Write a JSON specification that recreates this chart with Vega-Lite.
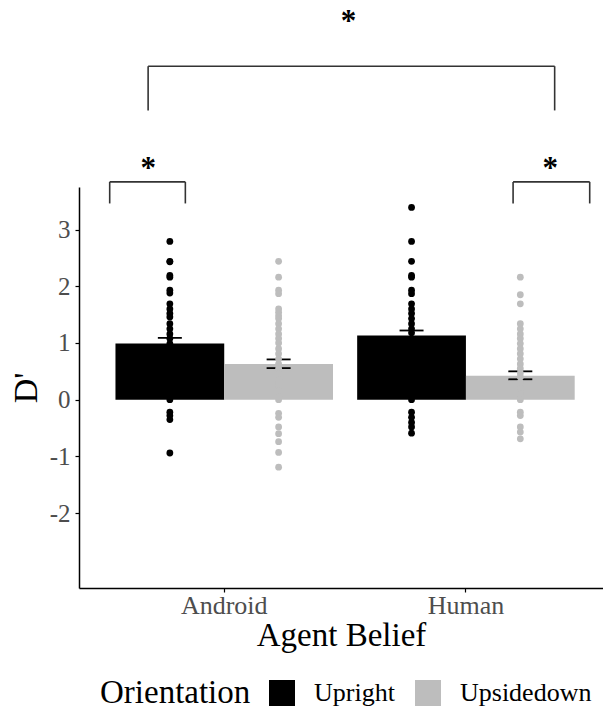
{
  "$schema": "https://vega.github.io/schema/vega-lite/v6.json",
  "autosize": {"type": "none"},
  "padding": {"left": 79, "top": 187, "right": 0, "bottom": 124},
  "width": 524,
  "height": 401,
  "background": "white",
  "config": {
    "view": {"stroke": null},
    "font": "Liberation Serif",
    "axis": {"grid": false, "domainColor": "#000000", "domainWidth": 1.5, "tickColor": "#000000", "tickWidth": 1.2, "tickSize": 4, "labelFont": "Liberation Serif", "titleFont": "Liberation Serif", "labelColor": "#4d4d4d", "titleColor": "#000000", "titleFontWeight": "normal"}
  },
  "datasets": {
    "means": [
      {"belief": "Android", "orientation": "Upright", "mean": 0.99, "lo": 0.90, "hi": 1.09},
      {"belief": "Android", "orientation": "Upsidedown", "mean": 0.63, "lo": 0.557, "hi": 0.71},
      {"belief": "Human", "orientation": "Upright", "mean": 1.134, "lo": 1.05, "hi": 1.22},
      {"belief": "Human", "orientation": "Upsidedown", "mean": 0.42, "lo": 0.36, "hi": 0.50}
    ],
    "points": [
      {"belief": "Android", "orientation": "Upright", "d": 2.79},
      {"belief": "Android", "orientation": "Upright", "d": 2.44},
      {"belief": "Android", "orientation": "Upright", "d": 2.43},
      {"belief": "Android", "orientation": "Upright", "d": 2.19},
      {"belief": "Android", "orientation": "Upright", "d": 2.16},
      {"belief": "Android", "orientation": "Upright", "d": 1.93},
      {"belief": "Android", "orientation": "Upright", "d": 1.88},
      {"belief": "Android", "orientation": "Upright", "d": 1.69},
      {"belief": "Android", "orientation": "Upright", "d": 1.6},
      {"belief": "Android", "orientation": "Upright", "d": 1.52},
      {"belief": "Android", "orientation": "Upright", "d": 1.46},
      {"belief": "Android", "orientation": "Upright", "d": 1.34},
      {"belief": "Android", "orientation": "Upright", "d": 1.25},
      {"belief": "Android", "orientation": "Upright", "d": 1.16},
      {"belief": "Android", "orientation": "Upright", "d": 1.08},
      {"belief": "Android", "orientation": "Upright", "d": 0.99},
      {"belief": "Android", "orientation": "Upright", "d": 0.92},
      {"belief": "Android", "orientation": "Upright", "d": 0.85},
      {"belief": "Android", "orientation": "Upright", "d": 0.78},
      {"belief": "Android", "orientation": "Upright", "d": 0.7},
      {"belief": "Android", "orientation": "Upright", "d": 0.62},
      {"belief": "Android", "orientation": "Upright", "d": 0.55},
      {"belief": "Android", "orientation": "Upright", "d": 0.47},
      {"belief": "Android", "orientation": "Upright", "d": 0.4},
      {"belief": "Android", "orientation": "Upright", "d": 0.33},
      {"belief": "Android", "orientation": "Upright", "d": 0.25},
      {"belief": "Android", "orientation": "Upright", "d": 0.18},
      {"belief": "Android", "orientation": "Upright", "d": 0.1},
      {"belief": "Android", "orientation": "Upright", "d": 0.0},
      {"belief": "Android", "orientation": "Upright", "d": -0.22},
      {"belief": "Android", "orientation": "Upright", "d": -0.28},
      {"belief": "Android", "orientation": "Upright", "d": -0.35},
      {"belief": "Android", "orientation": "Upright", "d": -0.94},
      {"belief": "Android", "orientation": "Upsidedown", "d": 2.44},
      {"belief": "Android", "orientation": "Upsidedown", "d": 2.16},
      {"belief": "Android", "orientation": "Upsidedown", "d": 1.93},
      {"belief": "Android", "orientation": "Upsidedown", "d": 1.87},
      {"belief": "Android", "orientation": "Upsidedown", "d": 1.6},
      {"belief": "Android", "orientation": "Upsidedown", "d": 1.54},
      {"belief": "Android", "orientation": "Upsidedown", "d": 1.48},
      {"belief": "Android", "orientation": "Upsidedown", "d": 1.43},
      {"belief": "Android", "orientation": "Upsidedown", "d": 1.34},
      {"belief": "Android", "orientation": "Upsidedown", "d": 1.25},
      {"belief": "Android", "orientation": "Upsidedown", "d": 1.16},
      {"belief": "Android", "orientation": "Upsidedown", "d": 1.08},
      {"belief": "Android", "orientation": "Upsidedown", "d": 1.0},
      {"belief": "Android", "orientation": "Upsidedown", "d": 0.9},
      {"belief": "Android", "orientation": "Upsidedown", "d": 0.81},
      {"belief": "Android", "orientation": "Upsidedown", "d": 0.72},
      {"belief": "Android", "orientation": "Upsidedown", "d": 0.63},
      {"belief": "Android", "orientation": "Upsidedown", "d": 0.55},
      {"belief": "Android", "orientation": "Upsidedown", "d": 0.45},
      {"belief": "Android", "orientation": "Upsidedown", "d": 0.35},
      {"belief": "Android", "orientation": "Upsidedown", "d": 0.25},
      {"belief": "Android", "orientation": "Upsidedown", "d": 0.15},
      {"belief": "Android", "orientation": "Upsidedown", "d": 0.05},
      {"belief": "Android", "orientation": "Upsidedown", "d": 0.0},
      {"belief": "Android", "orientation": "Upsidedown", "d": -0.24},
      {"belief": "Android", "orientation": "Upsidedown", "d": -0.31},
      {"belief": "Android", "orientation": "Upsidedown", "d": -0.48},
      {"belief": "Android", "orientation": "Upsidedown", "d": -0.6},
      {"belief": "Android", "orientation": "Upsidedown", "d": -0.74},
      {"belief": "Android", "orientation": "Upsidedown", "d": -0.93},
      {"belief": "Android", "orientation": "Upsidedown", "d": -1.19},
      {"belief": "Human", "orientation": "Upright", "d": 3.39},
      {"belief": "Human", "orientation": "Upright", "d": 2.79},
      {"belief": "Human", "orientation": "Upright", "d": 2.44},
      {"belief": "Human", "orientation": "Upright", "d": 2.19},
      {"belief": "Human", "orientation": "Upright", "d": 2.16},
      {"belief": "Human", "orientation": "Upright", "d": 1.93},
      {"belief": "Human", "orientation": "Upright", "d": 1.87},
      {"belief": "Human", "orientation": "Upright", "d": 1.69},
      {"belief": "Human", "orientation": "Upright", "d": 1.6},
      {"belief": "Human", "orientation": "Upright", "d": 1.52},
      {"belief": "Human", "orientation": "Upright", "d": 1.43},
      {"belief": "Human", "orientation": "Upright", "d": 1.34},
      {"belief": "Human", "orientation": "Upright", "d": 1.25},
      {"belief": "Human", "orientation": "Upright", "d": 1.18},
      {"belief": "Human", "orientation": "Upright", "d": 1.05},
      {"belief": "Human", "orientation": "Upright", "d": 0.95},
      {"belief": "Human", "orientation": "Upright", "d": 0.85},
      {"belief": "Human", "orientation": "Upright", "d": 0.75},
      {"belief": "Human", "orientation": "Upright", "d": 0.65},
      {"belief": "Human", "orientation": "Upright", "d": 0.55},
      {"belief": "Human", "orientation": "Upright", "d": 0.45},
      {"belief": "Human", "orientation": "Upright", "d": 0.35},
      {"belief": "Human", "orientation": "Upright", "d": 0.25},
      {"belief": "Human", "orientation": "Upright", "d": 0.15},
      {"belief": "Human", "orientation": "Upright", "d": 0.0},
      {"belief": "Human", "orientation": "Upright", "d": -0.22},
      {"belief": "Human", "orientation": "Upright", "d": -0.31},
      {"belief": "Human", "orientation": "Upright", "d": -0.4},
      {"belief": "Human", "orientation": "Upright", "d": -0.48},
      {"belief": "Human", "orientation": "Upright", "d": -0.59},
      {"belief": "Human", "orientation": "Upsidedown", "d": 2.16},
      {"belief": "Human", "orientation": "Upsidedown", "d": 1.85},
      {"belief": "Human", "orientation": "Upsidedown", "d": 1.69},
      {"belief": "Human", "orientation": "Upsidedown", "d": 1.34},
      {"belief": "Human", "orientation": "Upsidedown", "d": 1.25},
      {"belief": "Human", "orientation": "Upsidedown", "d": 1.16},
      {"belief": "Human", "orientation": "Upsidedown", "d": 1.08},
      {"belief": "Human", "orientation": "Upsidedown", "d": 0.99},
      {"belief": "Human", "orientation": "Upsidedown", "d": 0.9},
      {"belief": "Human", "orientation": "Upsidedown", "d": 0.81},
      {"belief": "Human", "orientation": "Upsidedown", "d": 0.72},
      {"belief": "Human", "orientation": "Upsidedown", "d": 0.63},
      {"belief": "Human", "orientation": "Upsidedown", "d": 0.55},
      {"belief": "Human", "orientation": "Upsidedown", "d": 0.47},
      {"belief": "Human", "orientation": "Upsidedown", "d": 0.4},
      {"belief": "Human", "orientation": "Upsidedown", "d": 0.3},
      {"belief": "Human", "orientation": "Upsidedown", "d": 0.2},
      {"belief": "Human", "orientation": "Upsidedown", "d": 0.1},
      {"belief": "Human", "orientation": "Upsidedown", "d": 0.0},
      {"belief": "Human", "orientation": "Upsidedown", "d": -0.22},
      {"belief": "Human", "orientation": "Upsidedown", "d": -0.28},
      {"belief": "Human", "orientation": "Upsidedown", "d": -0.48},
      {"belief": "Human", "orientation": "Upsidedown", "d": -0.57},
      {"belief": "Human", "orientation": "Upsidedown", "d": -0.69}
    ],
    "brackets": [
      {"xa": 0.686, "xb": 2.368, "ya": 5.88, "yb": 5.88},
      {"xa": 0.686, "xb": 0.686, "ya": 5.88, "yb": 5.1},
      {"xa": 2.368, "xb": 2.368, "ya": 5.88, "yb": 5.1},
      {"xa": 0.527, "xb": 0.84, "ya": 3.84, "yb": 3.84},
      {"xa": 0.527, "xb": 0.527, "ya": 3.84, "yb": 3.46},
      {"xa": 0.84, "xb": 0.84, "ya": 3.84, "yb": 3.46},
      {"xa": 2.196, "xb": 2.513, "ya": 3.84, "yb": 3.84},
      {"xa": 2.196, "xb": 2.196, "ya": 3.84, "yb": 3.46},
      {"xa": 2.513, "xb": 2.513, "ya": 3.84, "yb": 3.46}
    ],
    "stars": [
      {"xs": 1.515, "ys": 6.5, "label": "*"},
      {"xs": 0.686, "ys": 3.9, "label": "*"},
      {"xs": 2.35, "ys": 3.9, "label": "*"}
    ]
  },
  "layer": [
    {
      "layer": [
        {
          "data": {"name": "means"},
          "mark": {"type": "bar"},
          "encoding": {
            "x": {"field": "belief", "type": "nominal"},
            "xOffset": {"field": "orientation", "type": "nominal"},
            "y": {"field": "mean", "type": "quantitative"},
            "color": {
              "field": "orientation", "type": "nominal",
              "scale": {"domain": ["Upright", "Upsidedown"], "range": ["#000000", "#bdbdbd"]},
              "legend": {
                "title": "Orientation", "orient": "none", "legendX": 21, "legendY": 493,
                "direction": "horizontal", "titleOrient": "left", "titleFontSize": 33, "titleFont": "Liberation Serif", "titleFontWeight": "normal", "titleColor": "#000000",
                "labelFontSize": 26, "labelFont": "Liberation Serif", "labelColor": "#000000", "labelOffset": 19, "columnPadding": 20, "titlePadding": 18,
                "symbolType": "square", "symbolSize": 676, "symbolStrokeWidth": 0, "symbolOpacity": 1
              }
            }
          }
        },
        {
          "data": {"name": "means"},
          "mark": {"type": "rule", "color": "#000000", "strokeWidth": 1.5, "opacity": 1},
          "encoding": {
            "x": {"field": "belief", "type": "nominal"},
            "xOffset": {"field": "orientation", "type": "nominal"},
            "y": {"field": "lo", "type": "quantitative"},
            "y2": {"field": "hi"}
          }
        },
        {
          "data": {"name": "means"},
          "mark": {"type": "tick", "color": "#000000", "size": 24, "thickness": 1.8, "orient": "horizontal", "opacity": 1},
          "encoding": {
            "x": {"field": "belief", "type": "nominal"},
            "xOffset": {"field": "orientation", "type": "nominal"},
            "y": {"field": "lo", "type": "quantitative"}
          }
        },
        {
          "data": {"name": "means"},
          "mark": {"type": "tick", "color": "#000000", "size": 24, "thickness": 1.8, "orient": "horizontal", "opacity": 1},
          "encoding": {
            "x": {"field": "belief", "type": "nominal"},
            "xOffset": {"field": "orientation", "type": "nominal"},
            "y": {"field": "hi", "type": "quantitative"}
          }
        },
        {
          "data": {"name": "points"},
          "mark": {"type": "point", "filled": true, "size": 46, "opacity": 1},
          "encoding": {
            "x": {"field": "belief", "type": "nominal"},
            "xOffset": {"field": "orientation", "type": "nominal"},
            "y": {"field": "d", "type": "quantitative"},
            "color": {"field": "orientation", "type": "nominal"}
          }
        }
      ],
      "encoding": {
        "x": {
          "field": "belief", "type": "nominal",
          "scale": {"domain": ["Android", "Human"], "paddingInner": 0.1, "paddingOuter": 0.134, "align": 0.563},
          "axis": {"title": "Agent Belief", "labelAngle": 0, "labelFontSize": 26, "titleFontSize": 33, "labelPadding": 0, "titlePadding": 1}
        },
        "xOffset": {"field": "orientation", "type": "nominal", "scale": {"domain": ["Upright", "Upsidedown"], "paddingInner": 0, "paddingOuter": 0}},
        "y": {
          "type": "quantitative",
          "scale": {"domain": [-3.32, 3.75], "nice": false, "zero": false},
          "axis": {"title": "D'", "values": [-2, -1, 0, 1, 2, 3], "labelExpr": "'' + datum.value", "labelFontSize": 25, "titleFontSize": 34, "labelPadding": 5, "titlePadding": 6}
        }
      }
    },
    {
      "layer": [
        {
          "data": {"name": "brackets"},
          "mark": {"type": "rule", "color": "#333333", "strokeWidth": 1.6},
          "encoding": {
            "x": {"field": "xa", "type": "quantitative", "scale": {"domain": [0.4, 2.568], "nice": false, "zero": false}, "axis": null},
            "x2": {"field": "xb"},
            "y": {"field": "ya", "type": "quantitative"},
            "y2": {"field": "yb"}
          }
        },
        {
          "data": {"name": "stars"},
          "mark": {"type": "text", "font": "Liberation Serif", "fontSize": 31, "fontWeight": "bold", "fill": "#000000", "baseline": "alphabetic", "align": "center"},
          "encoding": {
            "x": {"field": "xs", "type": "quantitative", "scale": {"domain": [0.4, 2.568], "nice": false, "zero": false}, "axis": null},
            "y": {"field": "ys", "type": "quantitative"},
            "text": {"field": "label"}
          }
        }
      ]
    }
  ],
  "resolve": {"scale": {"x": "independent"}, "axis": {"x": "independent"}}
}
